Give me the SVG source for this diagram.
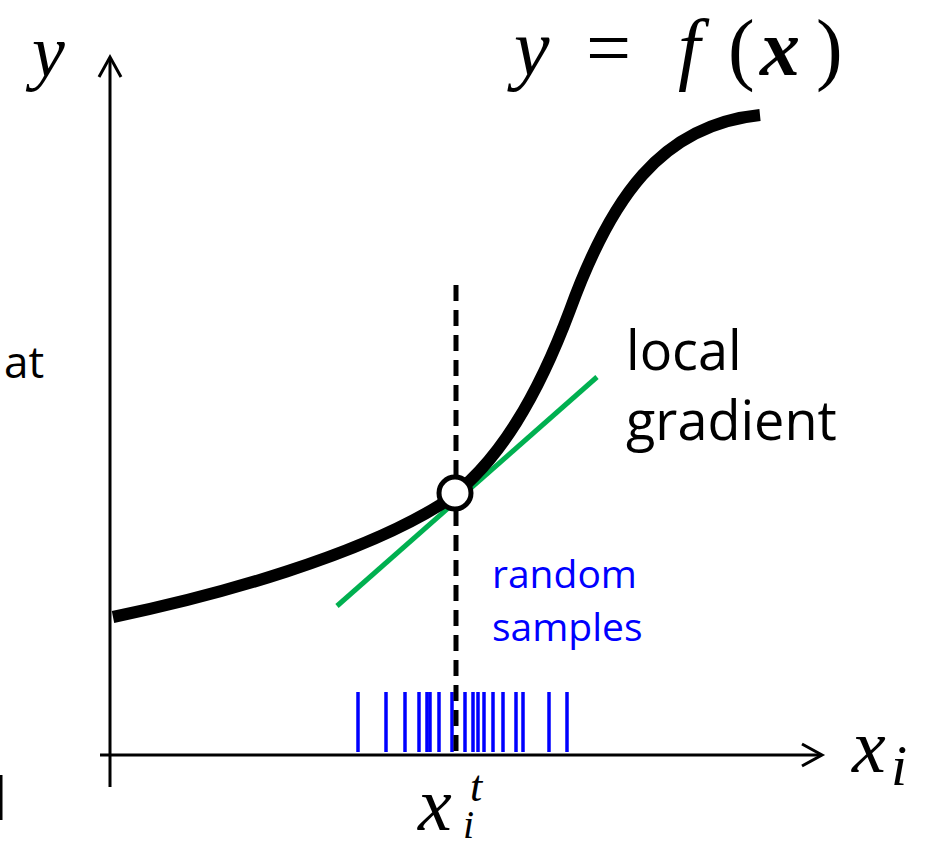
<svg xmlns="http://www.w3.org/2000/svg" width="927" height="853" viewBox="0 0 927 853">
<style>
.math{font-family:"Liberation Serif","DejaVu Serif",serif;font-style:italic;fill:#000}
.up{font-family:"Liberation Serif","DejaVu Serif",serif;fill:#000}
.lbl{font-family:"Open Sans","Liberation Sans",sans-serif;fill:#000}
.blue{fill:#0000ff}
.tick{stroke:#0000ff;stroke-width:3.5}
.axis{stroke:#000;stroke-width:3;fill:none}
</style>
<rect width="927" height="853" fill="#fff"/>
<g id="axes">
<line class="axis" x1="110" y1="787" x2="110" y2="58"/>
<polyline class="axis" points="99,77 110,57 121,77"/>
<line class="axis" x1="100" y1="755" x2="820" y2="755"/>
<polyline class="axis" points="802,744 822,755 802,766"/>
</g>
<g id="samples">
<line class="tick" x1="358" y1="692" x2="358" y2="752"/>
<line class="tick" x1="386" y1="692" x2="386" y2="752"/>
<line class="tick" x1="405" y1="692" x2="405" y2="752"/>
<line class="tick" x1="419" y1="692" x2="419" y2="752"/>
<line class="tick" x1="427" y1="692" x2="427" y2="752"/>
<line class="tick" x1="430" y1="692" x2="430" y2="752"/>
<line class="tick" x1="439" y1="692" x2="439" y2="752"/>
<line class="tick" x1="452" y1="692" x2="452" y2="752"/>
<line class="tick" x1="465" y1="692" x2="465" y2="752"/>
<line class="tick" x1="473" y1="692" x2="473" y2="752"/>
<line class="tick" x1="478" y1="692" x2="478" y2="752"/>
<line class="tick" x1="484" y1="692" x2="484" y2="752"/>
<line class="tick" x1="493" y1="692" x2="493" y2="752"/>
<line class="tick" x1="503" y1="692" x2="503" y2="752"/>
<line class="tick" x1="516" y1="692" x2="516" y2="752"/>
<line class="tick" x1="523" y1="692" x2="523" y2="752"/>
<line class="tick" x1="549" y1="692" x2="549" y2="752"/>
<line class="tick" x1="567" y1="692" x2="567" y2="752"/>
</g>
<g id="connectors">
<line x1="456" y1="285" x2="456" y2="752" stroke="#000" stroke-width="5" stroke-dasharray="16,9"/>
<line x1="337" y1="606" x2="597" y2="377" stroke="#00b050" stroke-width="5"/>
<path d="M113,617 C220,595 360,555 440,505 C500,465 540,390 570,310 C610,200 660,125 760,115" fill="none" stroke="#000" stroke-width="12"/>
</g>
<g id="point">
<circle cx="455" cy="493" r="16" fill="#fff" stroke="#000" stroke-width="5"/>
</g>
<g id="labels">
<text class="math" x="32" y="76" font-size="74">y</text>
<text class="math" x="514" y="75" font-size="80">y</text>
<text class="up" x="586" y="75" font-size="80">=</text>
<text class="math" x="678" y="75" font-size="80">f</text>
<text class="up" x="728" y="75" font-size="80">(</text>
<text class="math" x="760" y="75" font-size="80" font-weight="bold">x</text>
<text class="up" x="816" y="75" font-size="80">)</text>
<text class="lbl" x="4" y="378" font-size="44">at</text>
<rect x="0" y="775" width="2.5" height="45" fill="#000"/>
<text class="lbl" x="626" y="370" font-size="54">local</text>
<text class="lbl" x="626" y="440" font-size="54">gradient</text>
<text class="lbl blue" x="492" y="588" font-size="39">random</text>
<text class="lbl blue" x="492" y="641" font-size="39">samples</text>
<text class="math" x="852" y="772" font-size="76">x</text>
<text class="math" x="891" y="785" font-size="58">i</text>
<text class="math" x="418" y="830" font-size="76">x</text>
<text class="math" x="470" y="801" font-size="44">t</text>
<text class="math" x="463" y="838" font-size="40">i</text>
</g>
</svg>
